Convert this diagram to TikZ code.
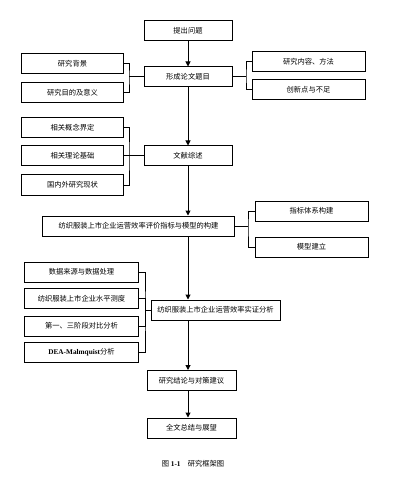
\documentclass[tikz,border=0pt]{standalone}
\usepackage{fontspec}
\setmainfont{Liberation Serif}
\newfontfamily\cjk{Noto Sans CJK SC}
\usetikzlibrary{arrows.meta}

\begin{document}
\begin{tikzpicture}[
    x=1bp,y=-1bp,
    box/.style={%
      draw,
      rectangle,
      line width=1bp,
      inner sep=0pt,
      minimum height=20bp,
      font=\cjk\fontsize{7.3}{8}\selectfont,
    },
    link/.style={line width=1bp},
    arrow/.style={line width=1bp,-{Triangle[length=5bp,width=5bp]}},
  ]
    \useasboundingbox (0,0) rectangle (407,483);

    % main column
    \node [box,minimum width=88bp] (wenti) at (188,31) {提出问题};
    \node [box,minimum width=88bp] (timu) at (188,77) {形成论文题目};
    \node [box,minimum width=88bp] (zongshu) at (188,156) {文献综述};
    \node [box,minimum width=191bp] (goujian) at (138.5,226) {纺织服装上市企业运营效率评价指标与模型的构建};
    \node [box,minimum width=129bp] (shizheng) at (215.5,310) {纺织服装上市企业运营效率实证分析};
    \node [box,minimum width=89bp] (jielun) at (191.5,380.5) {研究结论与对策建议};
    \node [box,minimum width=89bp] (zongjie) at (191.5,428) {全文总结与展望};

    % side boxes
    \node [box,minimum width=101bp] (beijing) at (72.5,64) {研究背景};
    \node [box,minimum width=101bp] (mudi) at (72.5,93) {研究目的及意义};
    \node [box,minimum width=113bp] (neirong) at (308.5,61.5) {研究内容、方法};
    \node [box,minimum width=113bp] (chuangxin) at (308.5,90) {创新点与不足};
    \node [box,minimum width=101bp] (gainian) at (72.5,127.5) {相关概念界定};
    \node [box,minimum width=101bp] (lilun) at (72.5,156) {相关理论基础};
    \node [box,minimum width=101bp] (xianzhuang) at (72.5,185) {国内外研究现状};
    \node [box,minimum width=113bp] (tixi) at (311.5,211) {指标体系构建};
    \node [box,minimum width=113bp] (moxing) at (311.5,247) {模型建立};
    \node [box,minimum width=113bp] (shuju) at (81.5,272) {数据来源与数据处理};
    \node [box,minimum width=113bp] (cedu) at (81.5,298.5) {纺织服装上市企业水平测度};
    \node [box,minimum width=113bp] (duibi) at (81.5,326) {第一、三阶段对比分析};
    \node [box,minimum width=113bp] (dea) at (81.5,352) {{\rmfamily\bfseries DEA-Malmquist}分析};

    \node [font=\fontsize{7.3}{8}\selectfont] (tu) at (193,464) {{\cjk 图}\ \textbf{1-1}\quad{\cjk 研究框架图}};

    % joints
    \coordinate (jA) at (129,77);
    \coordinate (jB) at (246,77);
    \coordinate (jC) at (129,156);
    \coordinate (jD) at (248,226);
    \coordinate (jE) at (145,310);

    \draw [arrow] (wenti) -- (timu);
    \draw [arrow] (timu) -- (zongshu);
    \draw [arrow] (zongshu) -- (zongshu.south |- goujian.north);
    \draw [arrow] (goujian.south -| wenti.south) -- (shizheng.north -| wenti.south);
    \draw [arrow] (shizheng.south -| wenti.south) -- (jielun.north -| wenti.south);
    \draw [arrow] (jielun.south -| wenti.south) -- (zongjie.north -| wenti.south);

    \draw [link] (beijing.east) -| (jA) |- (mudi.east);
    \draw [link] (jA) -- (timu.west);
    \draw [link] (neirong.west) -| (jB) |- (chuangxin.west);
    \draw [link] (timu.east) -- (jB);
    \draw [link] (gainian.east) -| (jC) |- (xianzhuang.east);
    \draw [link] (lilun.east) -- (zongshu.west);
    \draw [link] (tixi.west) -| (jD) |- (moxing.west);
    \draw [link] (goujian.east) -- (jD);
    \draw [link] (shuju.east) -| (jE) |- (dea.east);
    \draw [link] (cedu.east) -| (jE);
    \draw [link] (duibi.east) -| (jE);
    \draw [link] (jE) -- (shizheng.west);
\end{tikzpicture}
\end{document}
